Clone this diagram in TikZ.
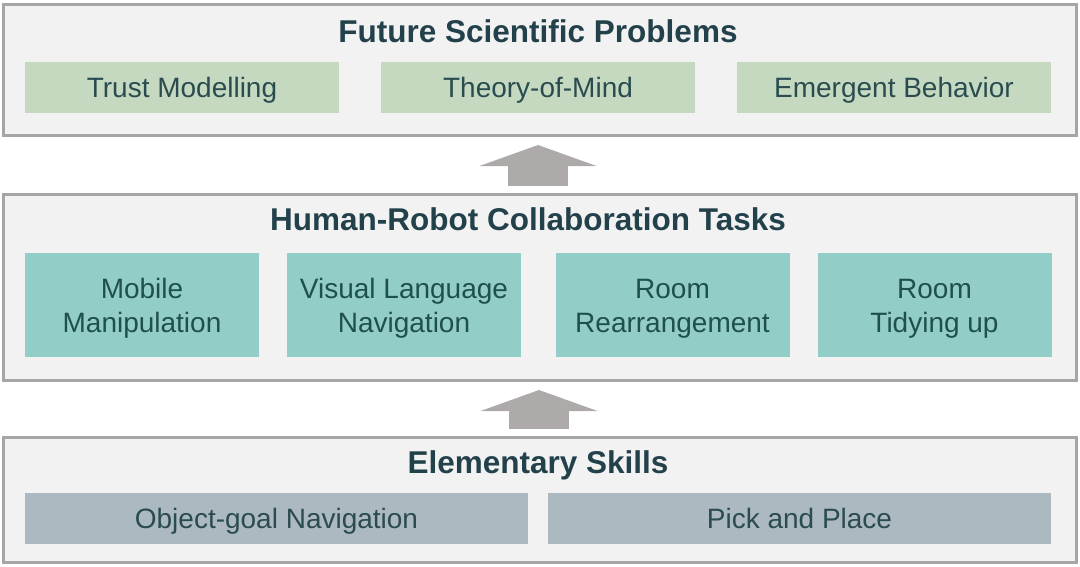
\documentclass[tikz,border=0pt]{standalone}
\usepackage{fontspec}
\setmainfont{Liberation Sans}
\usetikzlibrary{arrows.meta}
\definecolor{panelfill}{HTML}{F2F2F2}
\definecolor{paneldraw}{HTML}{A6A6A6}
\definecolor{greenbox}{HTML}{C5D9C0}
\definecolor{tealbox}{HTML}{93CDC7}
\definecolor{greybox}{HTML}{ADB9C1}
\definecolor{arrowgrey}{HTML}{AEAAAA}
\definecolor{titletext}{HTML}{23414A}
\definecolor{boxtext}{HTML}{2A4C50}
\definecolor{tealtext}{HTML}{1F5050}
\begin{document}
\begin{tikzpicture}[x=1pt, y=-1pt,
  panel/.style={draw=paneldraw, fill=panelfill, line width=3pt, inner sep=0pt, minimum width=1073pt},
  headline/.style={anchor=base, text=titletext, font=\fontsize{31.5}{36}\selectfont\bfseries},
  item/.style={inner sep=0pt, text=boxtext, align=center, text height=20pt, text depth=0pt, font=\fontsize{28}{34}\selectfont},
  greenitem/.style={item, fill=greenbox, minimum width=314pt, minimum height=51pt},
  tealitem/.style={item, text=tealtext, text height=54pt, fill=tealbox, minimum width=234pt, minimum height=104pt},
  greyitem/.style={item, fill=greybox, minimum width=503pt, minimum height=51pt},
  uparrow/.style={draw=arrowgrey, line width=60pt, -{Triangle[length=21pt, width=117pt, line width=0pt]}, shorten >=8pt, shorten <=7.5pt}]
\useasboundingbox (0,0) rectangle (1080,566);
\node[panel, minimum height=131pt] (problems) at (540,70) {};
\node[panel, minimum height=186pt] (tasks) at (540,287.5) {};
\node[panel, minimum height=125pt] (skills) at (540,500) {};
\node[headline] (problemstitle) at (538,42) {Future Scientific Problems};
\node[headline] (taskstitle) at (528,230) {Human-Robot Collaboration Tasks};
\node[headline] (skillstitle) at (538,473) {Elementary Skills};
\node[greenitem] (trust) at (182,87.5) {Trust Modelling};
\node[greenitem] (mind) at (538,87.5) {Theory-of-Mind};
\node[greenitem] (emergent) at (894,87.5) {Emergent Behavior};
\node[tealitem] (mobile) at (142,305) {Mobile\\Manipulation};
\node[tealitem] (vln) at (404,305) {Visual Language\\Navigation};
\node[tealitem] (rearrange) at (672.5,305) {Room\\Rearrangement};
\node[tealitem] (tidy) at (934.5,305) {Room\\Tidying up};
\node[greyitem] (objnav) at (276.5,518.5) {Object-goal Navigation};
\node[greyitem] (pickplace) at (799.5,518.5) {Pick and Place};
\draw[uparrow] ([xshift=-2pt]tasks.north) -- ([xshift=-2pt]problems.south);
\draw[uparrow] ([xshift=-1pt]skills.north) -- ([xshift=-1pt]tasks.south);
\end{tikzpicture}
\end{document}
